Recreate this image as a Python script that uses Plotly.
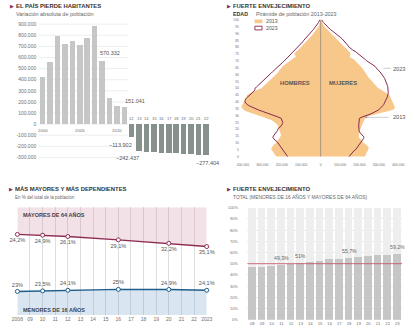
import plotly.graph_objects as go

W, H = 414, 330
def px(x): return x / W
def py(y): return 1 - y / H

FONT = "Liberation Sans, Arial, sans-serif"
MAROON = "#8e2b52"
BLUE = "#1e5c8c"
TXT = "#333333"
TICK = "#6f6f6f"

# ---------------- Panel 1: variación absoluta de población ----------------
years1 = list(range(2000, 2023))
variation = [425000, 558000, 797000, 720000, 750000, 714000, 777000, 887000,
             570332, 238000, 167000, 151041, -113902, -242437, -247000, -251000,
             -255000, -258000, -262000, -266000, -269000, -273000, -277404]
p1_ticks = [900000, 800000, 700000, 600000, 500000, 400000, 300000, 200000,
            100000, 0, -100000, -200000, -300000]
p1_year_labels = {2000: "2000", 2005: "2005", 2010: "2010"}
p1_short_years = list(range(2012, 2023))
p1_callouts = [2008, 2011, 2012, 2013, 2022]

# ---------------- Panel 2: pirámide ----------------
ages = list(range(0, 101))
men_2013 = [228, 232, 237, 242, 248, 253, 254, 250, 245, 238,
            230, 225, 218, 212, 208, 205, 204, 206, 208, 210,
            212, 214, 217, 222, 228, 235, 245, 258, 275, 296,
            320, 342, 362, 380, 395, 404, 408, 406, 402, 398,
            395, 392, 389, 386, 382, 378, 368, 355, 340, 322,
            305, 297, 289, 281, 273, 265, 258, 250, 242, 235,
            228, 223, 218, 213, 208, 203, 195, 187, 178, 170,
            162, 152, 140, 128, 130, 137, 132, 124, 115, 108,
            103, 96, 89, 82, 76, 70, 63, 56, 49, 43,
            37, 31, 25, 20, 16, 12, 8, 6, 4, 2, 1]
men_2023 = [170, 175, 180, 185, 190, 195, 198, 203, 208, 213,
            217, 225, 235, 242, 246, 243, 237, 230, 225, 222,
            220, 215, 205, 200, 197, 195, 197, 200, 203, 220,
            237, 255, 278, 298, 318, 337, 352, 366, 378, 385,
            390, 388, 387, 380, 372, 362, 355, 348, 342, 338,
            337, 330, 322, 314, 308, 303, 295, 286, 278, 270,
            262, 255, 248, 241, 234, 228, 220, 212, 203, 195,
            187, 180, 172, 165, 157, 150, 143, 136, 129, 122,
            115, 110, 104, 98, 92, 87, 80, 73, 66, 60,
            57, 50, 43, 37, 31, 25, 20, 15, 11, 8, 5]
women_2013 = [228, 230, 233, 237, 242, 246, 248, 246, 240, 232,
              222, 215, 208, 202, 198, 196, 196, 197, 199, 202,
              205, 207, 209, 211, 213, 216, 220, 225, 230, 236,
              258, 290, 322, 350, 370, 380, 382, 380, 377, 374,
              372, 369, 366, 362, 358, 354, 345, 335, 322, 310,
              297, 290, 283, 276, 270, 263, 258, 252, 246, 242,
              238, 233, 228, 223, 218, 213, 206, 199, 192, 186,
              180, 172, 160, 150, 152, 155, 152, 145, 135, 128,
              122, 115, 108, 101, 95, 88, 81, 74, 67, 61,
              55, 47, 40, 33, 26, 20, 15, 11, 7, 4, 2]
women_2023 = [147, 152, 158, 163, 170, 180, 185, 192, 198, 202,
              205, 210, 215, 220, 223, 220, 212, 205, 200, 198,
              197, 196, 196, 196, 197, 197, 197, 197, 200, 215,
              238, 255, 270, 285, 297, 305, 312, 320, 325, 328,
              330, 335, 338, 342, 345, 347, 348, 348, 348, 347,
              347, 346, 344, 342, 340, 338, 334, 330, 326, 322,
              318, 313, 306, 298, 292, 288, 280, 270, 258, 248,
              238, 230, 222, 214, 205, 197, 188, 178, 165, 155,
              147, 142, 136, 130, 126, 122, 112, 104, 96, 88,
              80, 70, 60, 50, 42, 38, 30, 22, 15, 10, 6]
pyr_xticks = [-400000, -300000, -200000, -100000, 0, 100000, 200000, 300000, 400000]
pyr_yticks = list(range(0, 101, 5))

# ---------------- Panel 3: mayores y menores ----------------
years3 = [2008, 2010, 2012, 2016, 2020, 2023]
mayores = [24.2, 24.9, 26.1, 29.1, 32.2, 35.1]
menores = [23.0, 23.5, 24.1, 25.0, 24.9, 24.1]
axis_years3 = list(range(2008, 2024))
axis_years3_text = ["2008"] + [f"{y % 100:02d}" for y in range(2009, 2023)] + ["2023"]

# ---------------- Panel 4: total dependencia ----------------
years4 = [f"{y % 100:02d}" for y in range(2008, 2024)]
total = [47.2, 47.8, 48.4, 49.3, 50.2, 51.0, 52.0, 53.1, 54.1, 54.9,
         55.7, 56.6, 57.1, 57.8, 58.5, 59.2]
p4_labelled = ["11", "13", "18", "23"]
p4_ref = 50
p4_ticks = list(range(0, 101, 10))


def es_num(v):
    s = f"{abs(int(v)):,}".replace(",", ".")
    return ("\u2212" if v < 0 else "") + s


def es_pct(v):
    return f"{v:g}".replace(".", ",") + "%"


fig = go.Figure()

# Panel 1 bars
colors1 = ["#c6c6c6" if v >= 0 else "#86918e" for v in variation]
fig.add_trace(go.Bar(x=years1, y=variation, marker_color=colors1, marker_line_width=0,
                     width=0.74, xaxis="x", yaxis="y", hoverinfo="skip"))

# Panel 2 pyramid
ORANGE = "#f8c78a"
LINE23 = "#86294f"
fig.add_trace(go.Scatter(x=[-v * 1000 for v in men_2013], y=ages, mode="lines",
                         line=dict(width=0, color=ORANGE), fill="tozerox",
                         fillcolor=ORANGE, xaxis="x2", yaxis="y2", hoverinfo="skip"))
fig.add_trace(go.Scatter(x=[v * 1000 for v in women_2013], y=ages, mode="lines",
                         line=dict(width=0, color=ORANGE), fill="tozerox",
                         fillcolor=ORANGE, xaxis="x2", yaxis="y2", hoverinfo="skip"))
fig.add_trace(go.Scatter(x=[-v * 1000 for v in men_2023], y=ages, mode="lines",
                         line=dict(width=1, color=LINE23), xaxis="x2", yaxis="y2",
                         hoverinfo="skip"))
fig.add_trace(go.Scatter(x=[v * 1000 for v in women_2023], y=ages, mode="lines",
                         line=dict(width=1, color=LINE23), xaxis="x2", yaxis="y2",
                         hoverinfo="skip"))

# Panel 3 lines
fig.add_trace(go.Scatter(x=years3, y=mayores, mode="lines+markers+text",
                         text=[es_pct(v) for v in mayores], textposition="bottom center",
                         textfont=dict(size=5.6, color="#555"),
                         line=dict(color=MAROON, width=1.4),
                         marker=dict(size=4, color="white", line=dict(color=MAROON, width=1)),
                         fill="tozeroy", fillcolor="rgba(205,137,161,0.25)",
                         cliponaxis=False, xaxis="x3", yaxis="y3", hoverinfo="skip"))
fig.add_trace(go.Scatter(x=years3, y=menores, mode="lines+markers+text",
                         text=[es_pct(v) for v in menores], textposition="top center",
                         textfont=dict(size=5.6, color="#555"),
                         line=dict(color=BLUE, width=1.4),
                         marker=dict(size=4, color="white", line=dict(color=BLUE, width=1)),
                         fill="tozeroy", fillcolor="rgba(103,155,203,0.25)",
                         cliponaxis=False, xaxis="x3", yaxis="y4", hoverinfo="skip"))

# Panel 4 bars
fig.add_trace(go.Bar(x=years4, y=[100] * len(years4), marker_color="#eeeeee",
                     marker_line_width=0, width=0.77, xaxis="x4", yaxis="y5", hoverinfo="skip"))
fig.add_trace(go.Bar(x=years4, y=total, marker_color="#c6c6c6", marker_line_width=0,
                     width=0.77, xaxis="x4", yaxis="y5", hoverinfo="skip"))

shapes = []
annotations = []

# Panel 1 gridlines
for v in p1_ticks:
    shapes.append(dict(type="line", xref="x", yref="y", x0=1999.2, x1=2011.5, y0=v, y1=v,
                       line=dict(color="#e2e2e2", width=0.6), layer="below"))

# Panel 1 year labels
for yv, t in p1_year_labels.items():
    annotations.append(dict(xref="x", yref="y", x=yv, y=0, text=t, showarrow=False,
                            yanchor="top", yshift=-2, font=dict(size=4.4, color=TICK)))
for yv in p1_short_years:
    annotations.append(dict(xref="x", yref="y", x=yv, y=0, text=f"{yv % 100:02d}",
                            showarrow=False, yanchor="bottom", yshift=1,
                            font=dict(size=4.2, color=TICK)))

# Panel 1 callouts
vals = dict(zip(years1, variation))
call_cfg = {2008: dict(xanchor="left", xshift=-4, yanchor="bottom", yshift=3),
            2011: dict(xanchor="left", xshift=-2, yanchor="bottom", yshift=1),
            2012: dict(xanchor="right", xshift=2, yanchor="top", yshift=-3),
            2013: dict(xanchor="right", xshift=2, yanchor="top", yshift=-2),
            2022: dict(xanchor="center", xshift=1, yanchor="top", yshift=-3)}
for yv in p1_callouts:
    c = call_cfg[yv]
    annotations.append(dict(xref="x", yref="y", x=yv, y=vals[yv], text=es_num(vals[yv]),
                            showarrow=False, font=dict(size=5.5, color="#555"), **c))

# Titles
def title(xp, yp, text):
    annotations.append(dict(xref="paper", yref="paper", x=px(xp - 6), y=py(yp), text="\u25B6",
                            showarrow=False, xanchor="left", yanchor="middle",
                            font=dict(size=5, color=MAROON)))
    annotations.append(dict(xref="paper", yref="paper", x=px(xp), y=py(yp), text=f"<b>{text}</b>",
                            showarrow=False, xanchor="left", yanchor="middle",
                            font=dict(size=5.9, color=TXT)))

def sub(xp, yp, text, size):
    annotations.append(dict(xref="paper", yref="paper", x=px(xp), y=py(yp), text=text,
                            showarrow=False, xanchor="left", yanchor="middle",
                            font=dict(size=size, color="#666")))

title(8.5, 5.8, "EL PAÍS PIERDE HABITANTES")
sub(8, 14, "Variación absoluta de población", 5.5)
title(231.5, 5.8, "FUERTE ENVEJECIMIENTO")
annotations.append(dict(xref="paper", yref="paper", x=px(232), y=py(14), text="<b>EDAD</b>",
                        showarrow=False, xanchor="left", yanchor="middle",
                        font=dict(size=5.3, color=TXT)))
sub(255, 14, "Pirámide de población 2013-2023", 5.4)
title(7.5, 190, "MÁS MAYORES Y MÁS DEPENDIENTES")
sub(7.3, 197.8, "En % del total de la población", 4.5)
title(231.5, 190, "FUERTE ENVEJECIMIENTO")
sub(231.5, 197.8, "TOTAL (MENORES DE 16 AÑOS Y MAYORES DE 64 AÑOS)", 4.9)

# Pyramid legend
shapes.append(dict(type="rect", xref="paper", yref="paper", x0=px(256), x1=px(264),
                   y0=py(23.3), y1=py(19.5), fillcolor=ORANGE, line=dict(width=0)))
shapes.append(dict(type="rect", xref="paper", yref="paper", x0=px(256.3), x1=px(263.7),
                   y0=py(30), y1=py(26.3), fillcolor="white", line=dict(width=0.9, color=LINE23)))
annotations.append(dict(xref="paper", yref="paper", x=px(266), y=py(21.4), text="2013",
                        showarrow=False, xanchor="left", yanchor="middle",
                        font=dict(size=5.2, color="#555")))
annotations.append(dict(xref="paper", yref="paper", x=px(266), y=py(28.2), text="2023",
                        showarrow=False, xanchor="left", yanchor="middle",
                        font=dict(size=5.2, color="#555")))
# Pyramid inner labels
annotations.append(dict(xref="x2", yref="y2", x=-130000, y=54, text="<b>HOMBRES</b>",
                        showarrow=False, font=dict(size=5.8, color="#555")))
annotations.append(dict(xref="x2", yref="y2", x=115000, y=54, text="<b>MUJERES</b>",
                        showarrow=False, font=dict(size=5.8, color="#555")))
# center line
shapes.append(dict(type="line", xref="x2", yref="y2", x0=0, x1=0, y0=0, y1=100,
                   line=dict(color="#7a6a60", width=0.6), layer="above"))
# callouts
shapes.append(dict(type="line", xref="paper", yref="paper", x0=px(388.5), x1=px(396),
                   y0=py(68.5), y1=py(68.5), line=dict(color="#aaa", width=0.6)))
annotations.append(dict(xref="paper", yref="paper", x=px(397), y=py(69), text="2023",
                        showarrow=False, xanchor="left", yanchor="middle",
                        font=dict(size=5.6, color="#555")))
shapes.append(dict(type="line", xref="paper", yref="paper", x0=px(371), x1=px(394),
                   y0=py(117.7), y1=py(117.7), line=dict(color="#aaa", width=0.6)))
shapes.append(dict(type="circle", xref="paper", yref="paper", x0=px(370.2), x1=px(371.8),
                   y0=py(118.5), y1=py(116.9), fillcolor="#777", line=dict(width=0)))
annotations.append(dict(xref="paper", yref="paper", x=px(397), y=py(117.5), text="2013",
                        showarrow=False, xanchor="left", yanchor="middle",
                        font=dict(size=5.6, color="#555")))

# Panel 3 band labels
annotations.append(dict(xref="paper", yref="paper", x=px(15), y=py(215.8),
                        text="<b>MAYORES DE 64 AÑOS</b>", showarrow=False, xanchor="left",
                        yanchor="middle", font=dict(size=5.5, color="#4a3a44")))
annotations.append(dict(xref="paper", yref="paper", x=px(15), y=py(311),
                        text="<b>MENORES DE 16 AÑOS</b>", showarrow=False, xanchor="left",
                        yanchor="middle", font=dict(size=5.5, color="#3a4550")))

# Panel 4 reference line, y labels and value labels
shapes.append(dict(type="line", xref="x4", yref="y5", x0=-0.55, x1=15.5, y0=p4_ref, y1=p4_ref,
                   line=dict(color="#c44d5e", width=0.8), layer="above"))
for t in p4_ticks:
    annotations.append(dict(xref="paper", yref="y5", x=px(240.5), y=t, text=f"{t}%",
                            showarrow=False, xanchor="right", yanchor="middle",
                            font=dict(size=3.9, color=TICK)))
tot = dict(zip(years4, total))
for k in p4_labelled:
    annotations.append(dict(xref="x4", yref="y5", x=years4.index(k), y=tot[k], text=es_pct(tot[k]),
                            showarrow=False, yanchor="bottom", yshift=1.5,
                            font=dict(size=5.2, color="#666")))

fig.update_layout(
    width=W, height=H, autosize=False,
    margin=dict(l=0, r=0, t=0, b=0, pad=0),
    paper_bgcolor="white", plot_bgcolor="rgba(0,0,0,0)",
    showlegend=False, barmode="overlay", bargap=0,
    font=dict(family=FONT, color=TXT),
    shapes=shapes, annotations=annotations,
    xaxis=dict(domain=[px(34.2), px(209.9)], range=[1999.5, 2022.5], showticklabels=False,
               showgrid=False, zeroline=False, showline=False, anchor="y", fixedrange=True),
    yaxis=dict(domain=[py(162), py(20)], range=[-336600, 938000], tickvals=p1_ticks,
               ticktext=[("-" if v < 0 else "") + f"{abs(v):,}".replace(",", ".") if v else "0"
                         for v in p1_ticks],
               tickfont=dict(size=5, color=TICK), showgrid=False, zeroline=False,
               ticks="", ticklabelstandoff=2, anchor="x"),
    xaxis2=dict(domain=[px(242), px(406)], range=[-410000, 410000], tickvals=pyr_xticks,
                ticktext=[f"{abs(v):,}".replace(",", ".") if v else "0" for v in pyr_xticks],
                tickfont=dict(size=3.4, color=TICK), showgrid=False, zeroline=False,
                ticks="", ticklabelstandoff=4, anchor="y2"),
    yaxis2=dict(domain=[py(158.4), py(18.6)], range=[-1, 101], tickvals=pyr_yticks,
                tickfont=dict(size=3.4, color=TICK), showgrid=False, zeroline=False,
                ticks="", ticklabelstandoff=1, anchor="x2"),
    xaxis3=dict(domain=[px(11.7), px(206.7)], range=[2008, 2023], tickvals=axis_years3,
                ticktext=axis_years3_text, tickfont=dict(size=5, color=TICK),
                showgrid=True, gridcolor="#dedede", gridwidth=0.7, zeroline=False,
                ticks="", anchor="y3"),
    yaxis3=dict(domain=[py(316), py(208)], range=[96.4, 0], visible=False, anchor="x3"),
    yaxis4=dict(overlaying="y3", range=[0, 104.9], visible=False, anchor="x3"),
    xaxis4=dict(domain=[px(248.7), px(408)], range=[-0.5, 15.5], type="category",
                tickfont=dict(size=4.2, color=TICK), showgrid=False, zeroline=False,
                ticks="", anchor="y5"),
    yaxis5=dict(domain=[py(320.7), py(208.3)], range=[0, 100], tickvals=p4_ticks,
                showticklabels=False, showgrid=True,
                gridcolor="#e8e8e8", gridwidth=0.6, zeroline=False, ticks="", anchor="x4"),
)

fig.write_html("out.html")
